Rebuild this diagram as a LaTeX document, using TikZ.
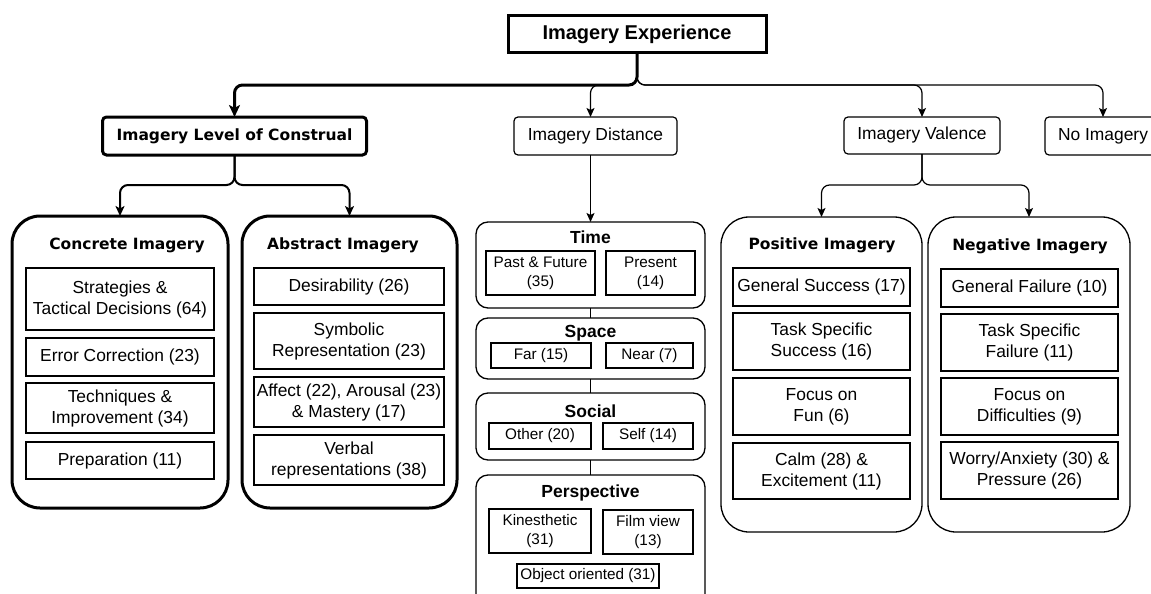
\documentclass[tikz,border=0pt]{standalone}
\usepackage{fontspec}
\setmainfont{Liberation Sans}
\newfontfamily\dvfont{DejaVu Sans}
\usetikzlibrary{arrows.meta}
\newcommand\bodyf{\fontsize{17.4}{21}\selectfont}
\newcommand\subf{\fontsize{15.3}{19}\selectfont}
\newcommand\grpf{\fontsize{17.5}{20}\selectfont\bfseries}
\newcommand\titf{\dvfont\fontsize{15.5}{18}\selectfont\bfseries}
\newcommand\topf{\fontsize{20}{24}\selectfont\bfseries}
\tikzset{
  every node/.style={inner sep=0pt, outer sep=0pt, align=center, text=black},
  inbox/.style={draw, line width=1.3pt, font=\bodyf},
  subbox/.style={draw, line width=1.2pt, font=\subf},
  bigthick/.style={draw, line width=3pt, rounded corners=28pt},
  bigthin/.style={draw, line width=1.3pt, rounded corners=28pt},
  grpbox/.style={draw, line width=1.3pt, rounded corners=12pt},
  thickc/.style={line width=3pt, rounded corners=8pt, -{Stealth[length=12pt,width=11pt,inset=3pt]}},
  medc/.style={line width=2pt, rounded corners=8pt, -{Stealth[length=10pt,width=9pt,inset=2.5pt]}},
  thinc/.style={line width=1.2pt, rounded corners=8pt, -{Stealth[length=9pt,width=8pt,inset=2pt]}},
  plainc/.style={line width=1.2pt},
}
\begin{document}
\begin{tikzpicture}[x=1pt,y=-1pt]
\useasboundingbox (0,0) rectangle (1151,594);
\fill[white] (0,0) rectangle (1151,594);
\clip (0,0) rectangle (1151,594);

% top level
\node[draw, line width=3pt, minimum width=258pt, minimum height=37pt, font=\topf] (exp) at (637,34.5) {Imagery Experience};
\node[draw, line width=3pt, rounded corners=4pt, minimum width=264pt, minimum height=38pt, font=\titf] (lvl) at (234.5,136) {Imagery Level of Construal};
\node[draw, line width=1.2pt, rounded corners=4pt, minimum width=163pt, minimum height=38pt, font=\bodyf] (dist) at (595.5,136) {Imagery Distance};
\node[draw, line width=1.2pt, rounded corners=4pt, minimum width=156pt, minimum height=37pt, font=\bodyf] (val) at (922,135.5) {Imagery Valence};
\node[draw, line width=1.2pt, rounded corners=4pt, minimum width=116pt, minimum height=38pt, font=\bodyf] (noimg) at (1103,136) {No Imagery};

% concrete / abstract
\node[bigthick, minimum width=216pt, minimum height=292pt] (conc) at (120,362) {};
\node[bigthick, minimum width=215pt, minimum height=292pt] (abst) at (349.5,362) {};
\node[font=\titf] (concT) at (127,245) {Concrete Imagery};
\node[font=\titf] (abstT) at (343,245) {Abstract Imagery};

\node[inbox, minimum width=188pt, minimum height=62pt] (c1) at (120,299) {Strategies \&\\Tactical Decisions (64)};
\node[inbox, minimum width=188pt, minimum height=38pt] (c2) at (120,357) {Error Correction (23)};
\node[inbox, minimum width=188pt, minimum height=50pt] (c3) at (120,408) {Techniques \&\\Improvement (34)};
\node[inbox, minimum width=188pt, minimum height=37pt] (c4) at (120,460.5) {Preparation (11)};

\node[inbox, minimum width=190pt, minimum height=37pt] (a1) at (349,286.5) {Desirability (26)};
\node[inbox, minimum width=190pt, minimum height=56pt] (a2) at (349,341) {Symbolic\\Representation (23)};
\node[inbox, minimum width=190pt, minimum height=50pt] (a3) at (349,402) {Affect (22), Arousal (23)\\\& Mastery (17)};
\node[inbox, minimum width=190pt, minimum height=50pt] (a4) at (349,460) {Verbal\\representations (38)};

% distance groups
\node[grpbox, minimum width=229pt, minimum height=86pt] (time) at (590.5,265) {};
\node[grpbox, minimum width=229pt, minimum height=61pt] (space) at (590.5,348.5) {};
\node[grpbox, minimum width=229pt, minimum height=67pt] (social) at (590.5,426.5) {};
\node[grpbox, minimum width=229pt, minimum height=131pt] (persp) at (590.5,540.5) {};
\node[font=\grpf] (timeT) at (590.5,237) {Time};
\node[font=\grpf] (spaceT) at (590.5,333) {Space};
\node[font=\grpf] (socialT) at (590.5,411) {Social};
\node[font=\grpf] (perspT) at (590.5,493) {Perspective};

\node[subbox, minimum width=109pt, minimum height=44pt] (pf) at (540.5,273) {Past \& Future\\(35)};
\node[subbox, minimum width=89pt, minimum height=44pt] (pr) at (650.5,273) {Present\\(14)};
\node[subbox, minimum width=100pt, minimum height=25pt] (far) at (541,355.5) {Far (15)};
\node[subbox, minimum width=87pt, minimum height=25pt] (near) at (649.5,355.5) {Near (7)};
\node[subbox, minimum width=102pt, minimum height=26pt] (other) at (540,436) {Other (20)};
\node[subbox, minimum width=90pt, minimum height=26pt] (self) at (648,436) {Self (14)};
\node[subbox, minimum width=102pt, minimum height=44pt] (kin) at (540,531) {Kinesthetic\\(31)};
\node[subbox, minimum width=90pt, minimum height=44pt] (film) at (648,532) {Film view\\(13)};
\node[subbox, minimum width=142pt, minimum height=24pt] (obj) at (588,576) {Object oriented (31)};

% valence
\node[bigthin, minimum width=201pt, minimum height=315pt] (pos) at (821.5,374.5) {};
\node[bigthin, minimum width=202pt, minimum height=315pt] (neg) at (1029,374.5) {};
\node[font=\titf] (posT) at (822,245) {Positive Imagery};
\node[font=\titf] (negT) at (1030,246) {Negative Imagery};

\node[inbox, minimum width=177pt, minimum height=38pt] (p1) at (821.5,287) {General Success (17)};
\node[inbox, minimum width=177pt, minimum height=57pt] (p2) at (821.5,341.5) {Task Specific\\Success (16)};
\node[inbox, minimum width=177pt, minimum height=57pt] (p3) at (821.5,406.5) {Focus on\\Fun (6)};
\node[inbox, minimum width=177pt, minimum height=56pt] (p4) at (821.5,471) {Calm (28) \&\\Excitement (11)};

\node[inbox, minimum width=177pt, minimum height=38pt] (n1) at (1029.5,288) {General Failure (10)};
\node[inbox, minimum width=177pt, minimum height=57pt] (n2) at (1029.5,342.5) {Task Specific\\Failure (11)};
\node[inbox, minimum width=177pt, minimum height=57pt] (n3) at (1029.5,406.5) {Focus on\\Difficulties (9)};
\node[inbox, minimum width=177pt, minimum height=57pt] (n4) at (1029.5,470.5) {Worry/Anxiety (30) \&\\Pressure (26)};

% connectors
\coordinate (hub) at (637,85);
\draw[thinc] (exp.south) -- (hub) -| (dist.north -| time.north);
\draw[thinc] (exp.south) -- (hub) -| (val.north);
\draw[thinc] (exp.south) -- (hub) -| (noimg.north);
\draw[thickc] (exp.south) -- (hub) -| (lvl.north);

\draw[medc] (lvl.south) -- (lvl.south |- 0,185) -| (conc.north);
\draw[medc] (lvl.south) -- (lvl.south |- 0,185) -| (abst.north);

\draw[thinc] (val.south) -- (val.south |- 0,185) -| (pos.north);
\draw[thinc] (val.south) -- (val.south |- 0,185) -| (neg.north);

\draw[thinc] (dist.south -| time.north) -- (time.north);
\draw[plainc] (time.south) -- (space.north);
\draw[plainc] (space.south) -- (social.north);
\draw[plainc] (social.south) -- (persp.north);
\end{tikzpicture}
\end{document}
